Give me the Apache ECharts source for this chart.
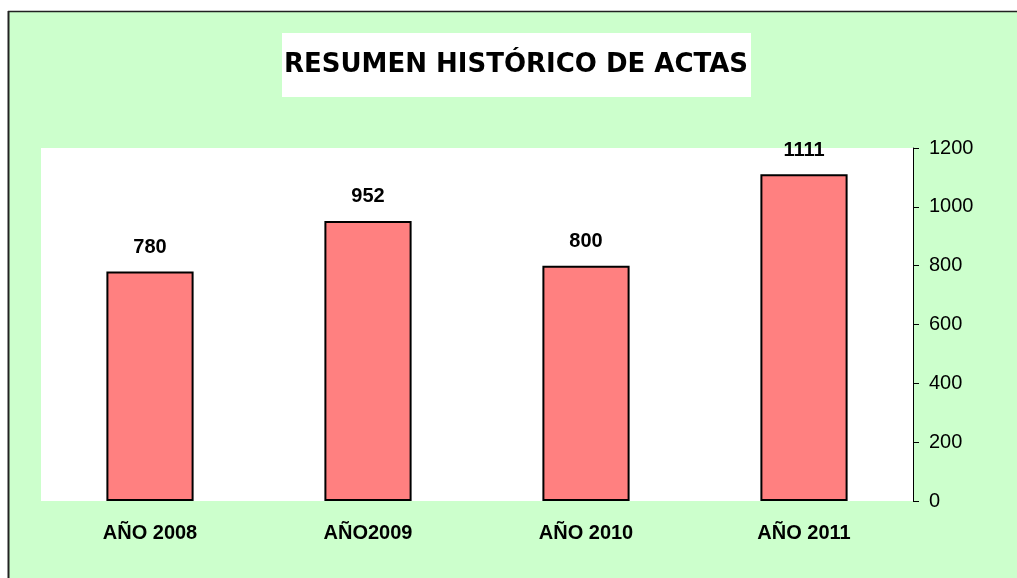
<!DOCTYPE html>
<html>
<head>
<meta charset="utf-8">
<script src="https://cdn.jsdelivr.net/npm/echarts@6/dist/echarts.min.js"></script>
<style>
html,body{margin:0;padding:0;background:#fff;}
#c{width:1017px;height:578px;}
</style>
</head>
<body>
<div id="c"></div>
<script>
const titleText = 'RESUMEN HISTÓRICO DE ACTAS';
const categories = ['AÑO 2008', 'AÑO2009', 'AÑO 2010', 'AÑO 2011'];
const values = [780, 952, 800, 1111];
const yTicks = [0, 200, 400, 600, 800, 1000, 1200];

const chart = echarts.init(document.getElementById('c'), null, {renderer: 'canvas'});
chart.setOption({
  backgroundColor: '#ffffff',
  animation: false,
  graphic: [
    {type: 'rect', z: -10, shape: {x: 9, y: 12, width: 1010, height: 570}, style: {fill: '#CCFFCC'}},
    {type: 'line', z: -9, shape: {x1: 8.5, y1: 11, x2: 8.5, y2: 578}, style: {stroke: '#222', lineWidth: 2}},
    {type: 'line', z: -9, shape: {x1: 8, y1: 11.5, x2: 1017, y2: 11.5}, style: {stroke: '#222', lineWidth: 1.5}},
    {type: 'rect', z: -8, shape: {x: 282, y: 33, width: 469, height: 64}, style: {fill: '#ffffff'}},
    {type: 'text', z: 10, style: {text: titleText, x: 516, y: 65, font: 'bold 26px "DejaVu Sans"', fill: '#000', textAlign: 'center', textVerticalAlign: 'middle'}}
  ],
  grid: {left: 41, right: 104, top: 148, bottom: 77, show: true, backgroundColor: '#ffffff', borderWidth: 0},
  xAxis: {
    type: 'category',
    data: categories,
    axisLine: {show: false},
    axisTick: {show: false},
    axisLabel: {color: '#000', fontFamily: 'Liberation Sans', fontWeight: 'bold', fontSize: 20, margin: 22}
  },
  yAxis: {
    type: 'value',
    position: 'right',
    min: 0, max: 1200, interval: 200,
    splitLine: {show: false},
    axisLine: {show: true, lineStyle: {color: '#000', width: 1}},
    axisTick: {show: true, inside: false, length: 6, lineStyle: {color: '#000'}},
    axisLabel: {color: '#000', fontFamily: 'Liberation Sans', fontSize: 20, margin: 16,
      formatter: v => yTicks.includes(v) ? String(v) : ''}
  },
  series: [{
    type: 'bar',
    data: values,
    barWidth: '40%',
    itemStyle: {color: '#FF8080', borderColor: '#000', borderWidth: 2},
    label: {show: true, position: 'top', distance: 14, color: '#000', fontFamily: 'Liberation Sans', fontWeight: 'bold', fontSize: 20}
  }]
});
</script>
</body>
</html>
